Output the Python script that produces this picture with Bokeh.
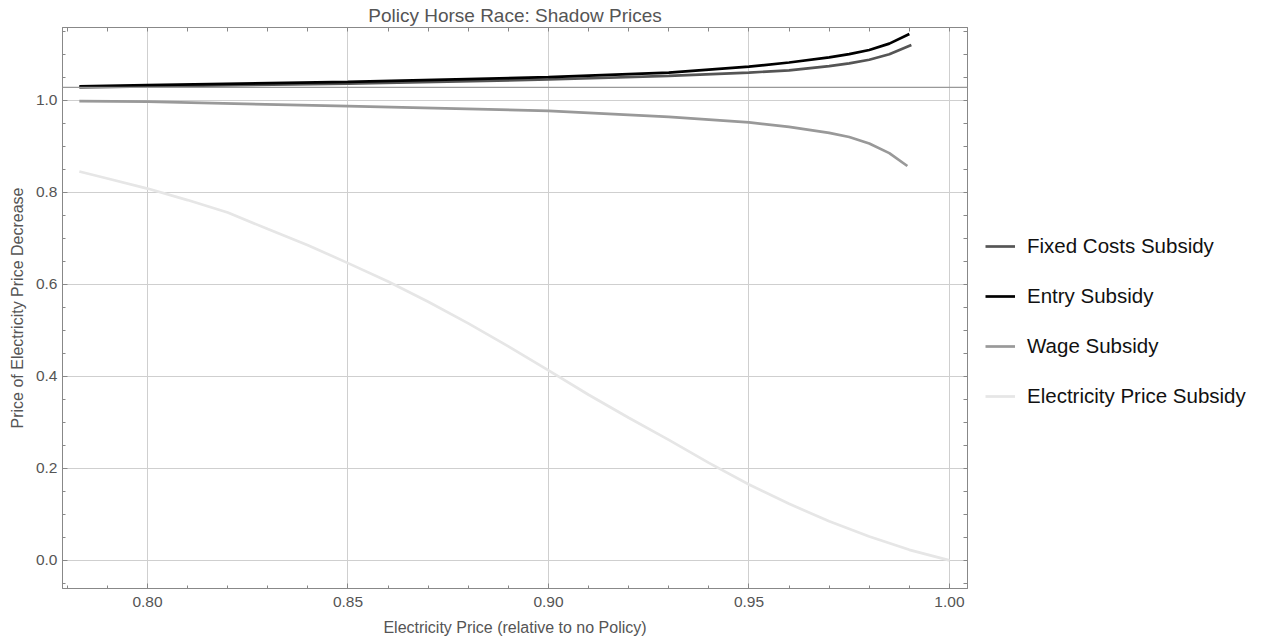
from bokeh.plotting import figure
from bokeh.layouts import row
from bokeh.models import (Range1d, Span, Legend, LegendItem, LinearAxis,
                          FixedTicker, NumeralTickFormatter)
from bokeh.embed import file_html
from bokeh.resources import INLINE

# ---------------- data ----------------
entry_x = [0.783, 0.80, 0.85, 0.90, 0.93, 0.95, 0.96, 0.97, 0.975, 0.98, 0.985, 0.99]
entry_y = [1.030, 1.033, 1.040, 1.050, 1.060, 1.073, 1.082, 1.093, 1.100, 1.109, 1.123, 1.144]

fixed_x = [0.783, 0.80, 0.85, 0.90, 0.93, 0.95, 0.96, 0.97, 0.975, 0.98, 0.985, 0.9905]
fixed_y = [1.028, 1.030, 1.036, 1.045, 1.053, 1.060, 1.065, 1.074, 1.080, 1.088, 1.100, 1.120]

wage_x = [0.783, 0.80, 0.85, 0.90, 0.93, 0.95, 0.96, 0.97, 0.975, 0.98, 0.985, 0.9895]
wage_y = [0.998, 0.997, 0.987, 0.977, 0.964, 0.952, 0.942, 0.929, 0.920, 0.906, 0.885, 0.857]

elec_x = [0.783, 0.79, 0.80, 0.81, 0.82, 0.83, 0.84, 0.85, 0.86, 0.87, 0.88,
          0.89, 0.90, 0.91, 0.92, 0.93, 0.94, 0.95, 0.96, 0.97, 0.98, 0.99, 1.00]
elec_y = [0.845, 0.830, 0.808, 0.783, 0.756, 0.720, 0.685, 0.646, 0.606, 0.562, 0.515,
          0.465, 0.413, 0.360, 0.310, 0.262, 0.212, 0.165, 0.123, 0.085, 0.052, 0.023, 0.0]

axis_level = 1.028
x_ticks = [0.80, 0.85, 0.90, 0.95, 1.00]
y_ticks = [0.0, 0.2, 0.4, 0.6, 0.8, 1.0]
x_minor = [round(0.78 + 0.01 * i, 2) for i in range(23)]
y_minor = [round(-0.05 + 0.05 * i, 2) for i in range(25)]

series_names = ["Fixed Costs Subsidy", "Entry Subsidy", "Wage Subsidy", "Electricity Price Subsidy"]
series_colors = ["#555555", "#000000", "#999999", "#e6e6e6"]

FONT = "Liberation Sans"
TXT = "#555555"

p = figure(width=975, height=642, output_backend="svg", toolbar_location=None,
           x_range=Range1d(0.7788, 1.0045), y_range=Range1d(-0.061, 1.158),
           min_border_left=62, min_border_right=8, min_border_top=27,
           min_border_bottom=54)

p.title.text = "Policy Horse Race: Shadow Prices"
p.title.align = "center"
p.title.text_font = FONT
p.title.text_font_style = "normal"
p.title.text_font_size = "19px"
p.title.text_color = TXT
p.title.offset = 0
p.title.standoff = 4

p.outline_line_color = "#888888"
p.outline_line_width = 1

for ax in [p.xaxis[0], p.yaxis[0]]:
    ax.axis_line_color = "#888888"
    ax.major_tick_in = 5
    ax.major_tick_out = 0
    ax.minor_tick_in = 3
    ax.minor_tick_out = 0
    ax.major_tick_line_color = "#888888"
    ax.minor_tick_line_color = "#888888"
    ax.major_label_text_font = FONT
    ax.major_label_text_font_size = "15.5px"
    ax.major_label_text_color = TXT
    ax.axis_label_text_font = FONT
    ax.axis_label_text_font_size = "16px"
    ax.axis_label_text_font_style = "normal"
    ax.axis_label_text_color = TXT

p.xaxis[0].ticker = FixedTicker(ticks=x_ticks, minor_ticks=x_minor)
p.xaxis[0].formatter = NumeralTickFormatter(format="0.00")
p.xaxis[0].axis_label = "Electricity Price (relative to no Policy)"
p.xaxis[0].major_label_standoff = 8
p.xaxis[0].axis_label_standoff = 9

p.yaxis[0].ticker = FixedTicker(ticks=y_ticks, minor_ticks=y_minor)
p.yaxis[0].formatter = NumeralTickFormatter(format="0.0")
p.yaxis[0].axis_label = "Price of Electricity Price Decrease"
p.yaxis[0].major_label_standoff = 5
p.yaxis[0].axis_label_standoff = 7

# mirrored frame ticks on top and right (tick marks only, no labels)
top = LinearAxis(ticker=FixedTicker(ticks=[], minor_ticks=x_minor))
right = LinearAxis(ticker=FixedTicker(ticks=[], minor_ticks=y_minor))
for ax in [top, right]:
    ax.axis_line_color = "#888888"
    ax.minor_tick_in = 4
    ax.minor_tick_out = 0
    ax.minor_tick_line_color = "#888888"
    ax.major_label_standoff = 0
p.add_layout(top, "above")
p.add_layout(right, "right")

p.xgrid.ticker = FixedTicker(ticks=x_ticks)
p.ygrid.ticker = FixedTicker(ticks=y_ticks)
p.xgrid.grid_line_color = "#cfcfcf"
p.ygrid.grid_line_color = "#cfcfcf"

p.add_layout(Span(location=axis_level, dimension="width", line_color="#999999", line_width=1.2))

xs = [fixed_x, entry_x, wage_x, elec_x]
ys = [fixed_y, entry_y, wage_y, elec_y]
for i in [3, 2, 0, 1]:
    p.line(xs[i], ys[i], line_color=series_colors[i], line_width=2.7)

# legend panel: a second, axis-less figure carrying the same series
q = figure(width=291, height=642, output_backend="svg", toolbar_location=None,
           x_range=Range1d(5, 6), y_range=Range1d(5, 6),
           min_border=0, x_axis_type=None, y_axis_type=None)
q.outline_line_color = None
q.xgrid.visible = False
q.ygrid.visible = False
qr = [q.line(xs[i], ys[i], line_color=series_colors[i], line_width=2.7) for i in range(4)]

legend = Legend(items=[LegendItem(label=series_names[i], renderers=[qr[i]]) for i in range(4)],
                location=(10, 180))
legend.border_line_color = None
legend.background_fill_alpha = 0
legend.label_text_font = FONT
legend.label_text_font_size = "20.5px"
legend.label_text_color = "#111111"
legend.glyph_width = 30
legend.glyph_height = 20
legend.label_height = 20
legend.label_standoff = 12
legend.spacing = 26
legend.padding = 10
legend.margin = 0
q.add_layout(legend, "center")

layout = row(p, q, spacing=0)
open("out.html", "w").write(file_html(layout, INLINE))
